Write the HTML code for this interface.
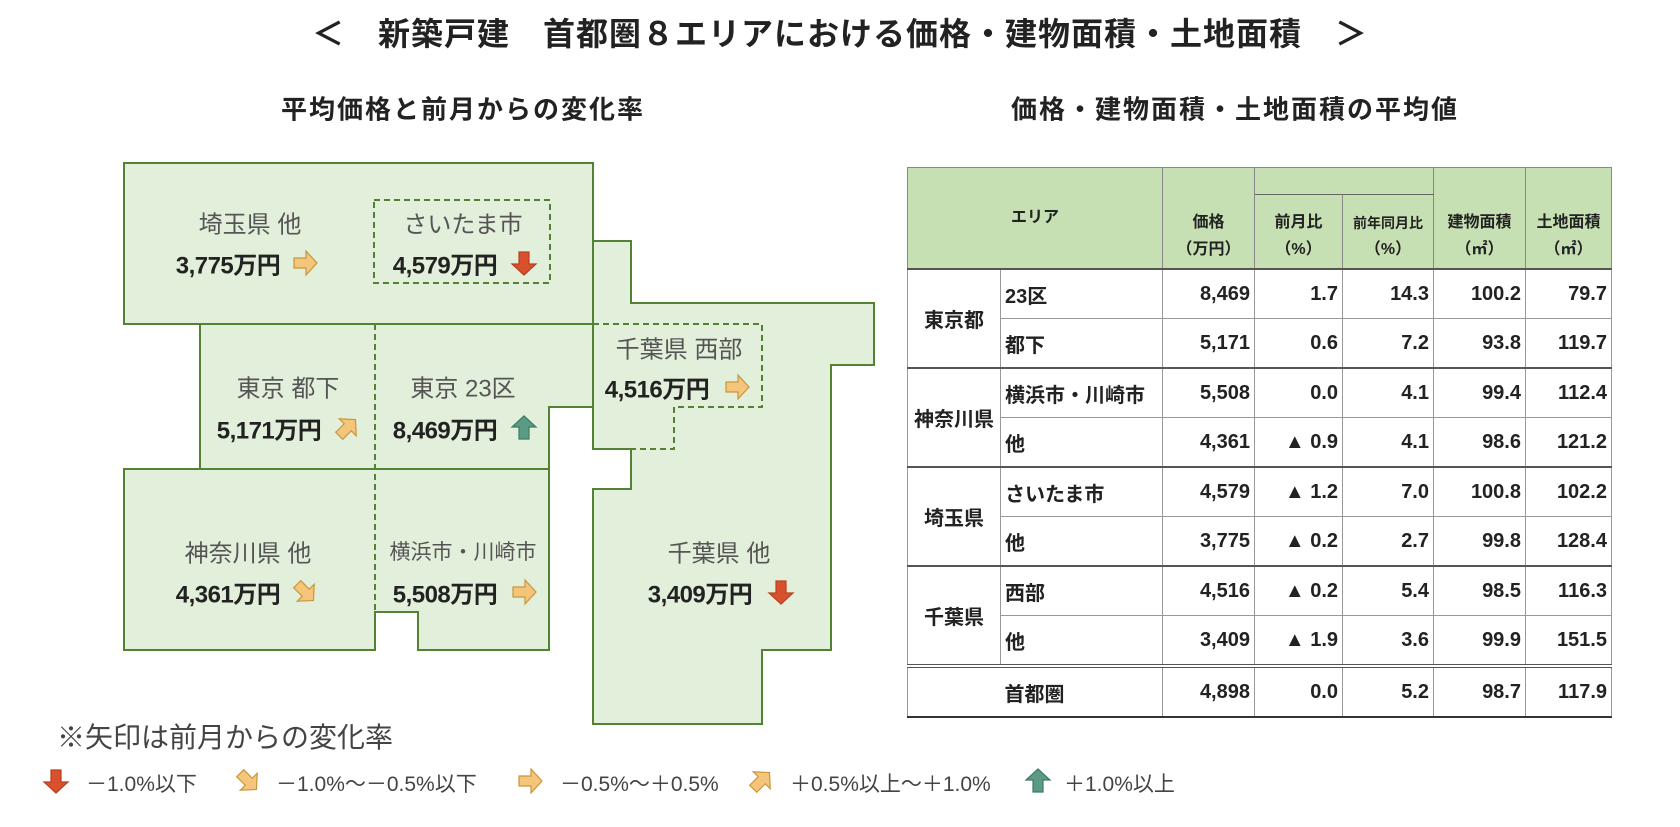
<!DOCTYPE html>
<html><head><meta charset="utf-8"><style>
body{margin:0;width:1680px;height:827px;background:#fff;position:relative;overflow:hidden;font-family:"Liberation Sans","Noto Sans CJK JP",sans-serif;color:#222}
.a{position:absolute;white-space:nowrap}
.t{transform:translate(-50%,-50%)}
.lbl{font-size:24px;color:#555}
.num{font-size:24px;font-weight:bold;color:#222;letter-spacing:-0.5px}
table{position:absolute;left:907px;top:167px;border-collapse:collapse;font-size:20px;font-weight:bold}
td{border:1px solid #999;padding:0 4px;height:48px;text-align:right;vertical-align:middle}
.h td{background:#c6e0b4;text-align:center;font-size:16px;border-color:#888;line-height:1.7}
.g td{border-top:2px solid #555}
td.l{text-align:left}
td.c{text-align:center}
</style></head><body>
<div class="a t" style="left:840px;top:32px;font-size:32px;font-weight:bold;letter-spacing:1px">＜　新築戸建　首都圏８エリアにおける価格・建物面積・土地面積　＞</div>
<div class="a t" style="left:463px;top:108px;font-size:26px;font-weight:bold;letter-spacing:2px">平均価格と前月からの変化率</div>
<div class="a t" style="left:1235px;top:108px;font-size:26px;font-weight:bold;letter-spacing:2px">価格・建物面積・土地面積の平均値</div>

<svg class="a" style="left:0;top:0" width="1680" height="827">
<defs>
<path id="ar" d="M-11,-5 L1,-5 L1,-12 L12,0 L1,12 L1,5 L-11,5 Z"/>
</defs>
<g fill="#e2efda" stroke="#548235" stroke-width="2">
<polygon points="124,163 593,163 593,324 124,324"/>
<polygon points="200,324 593,324 593,407 549,407 549,469 200,469"/>
<polygon points="124,469 549,469 549,650 418,650 418,612 375,612 375,650 124,650"/>
<polygon points="593,241 631,241 631,303 874,303 874,365 831,365 831,650 762,650 762,724 593,724 593,489 631,489 631,449 593,449"/>
</g>
<g fill="none" stroke="#548235" stroke-width="2" stroke-dasharray="6,4">
<rect x="374" y="200" width="176" height="83"/>
<polyline points="593,324 762,324 762,407 674,407 674,449 593,449"/>
<line x1="375" y1="324" x2="375" y2="612"/>
</g>
<g stroke-width="1.2">
<use href="#ar" transform="translate(305,263)" fill="#f4c57a" stroke="#c8963c"/>
<use href="#ar" transform="translate(524,263) rotate(90)" fill="#d9512c" stroke="#b8401f"/>
<use href="#ar" transform="translate(347,428) rotate(-45)" fill="#f4c57a" stroke="#c8963c"/>
<use href="#ar" transform="translate(524,428) rotate(-90)" fill="#5b9b84" stroke="#3f7a64"/>
<use href="#ar" transform="translate(737,387)" fill="#f4c57a" stroke="#c8963c"/>
<use href="#ar" transform="translate(305,592) rotate(45)" fill="#f4c57a" stroke="#c8963c"/>
<use href="#ar" transform="translate(524,592)" fill="#f4c57a" stroke="#c8963c"/>
<use href="#ar" transform="translate(781,592) rotate(90)" fill="#d9512c" stroke="#b8401f"/>
<use href="#ar" transform="translate(56,781) rotate(90)" fill="#d9512c" stroke="#b8401f"/>
<use href="#ar" transform="translate(248,781) rotate(45)" fill="#f4c57a" stroke="#c8963c"/>
<use href="#ar" transform="translate(530,781)" fill="#f4c57a" stroke="#c8963c"/>
<use href="#ar" transform="translate(761,781) rotate(-45)" fill="#f4c57a" stroke="#c8963c"/>
<use href="#ar" transform="translate(1038,781) rotate(-90)" fill="#5b9b84" stroke="#3f7a64"/>
</g>
</svg>

<div class="a t lbl" style="left:250px;top:222px">埼玉県 他</div>
<div class="a t num" style="left:228px;top:263px">3,775万円</div>
<div class="a t lbl" style="left:463px;top:222px">さいたま市</div>
<div class="a t num" style="left:445px;top:263px">4,579万円</div>
<div class="a t lbl" style="left:288px;top:386px">東京 都下</div>
<div class="a t num" style="left:269px;top:428px">5,171万円</div>
<div class="a t lbl" style="left:463px;top:386px">東京 23区</div>
<div class="a t num" style="left:445px;top:428px">8,469万円</div>
<div class="a t lbl" style="left:679px;top:347px">千葉県 西部</div>
<div class="a t num" style="left:657px;top:387px">4,516万円</div>
<div class="a t lbl" style="left:248px;top:551px">神奈川県 他</div>
<div class="a t num" style="left:228px;top:592px">4,361万円</div>
<div class="a t lbl" style="left:463px;top:551px;font-size:21px">横浜市・川崎市</div>
<div class="a t num" style="left:445px;top:592px">5,508万円</div>
<div class="a t lbl" style="left:719px;top:551px">千葉県 他</div>
<div class="a t num" style="left:700px;top:592px">3,409万円</div>

<div class="a" style="left:57px;top:716px;font-size:28px;color:#444">※矢印は前月からの変化率</div>
<div class="a" style="left:86px;top:768px;font-size:21px;color:#444">－1.0%以下</div>
<div class="a" style="left:276px;top:768px;font-size:21px;color:#444">－1.0%～－0.5%以下</div>
<div class="a" style="left:560px;top:768px;font-size:21px;color:#444">－0.5%～＋0.5%</div>
<div class="a" style="left:790px;top:768px;font-size:21px;color:#444">＋0.5%以上～＋1.0%</div>
<div class="a" style="left:1064px;top:768px;font-size:21px;color:#444">＋1.0%以上</div>

<table>
<colgroup><col style="width:93px"><col style="width:162px"><col style="width:92px"><col style="width:88px"><col style="width:91px"><col style="width:92px"><col style="width:86px"></colgroup>
<tr class="h"><td colspan="2" rowspan="2" style="height:96px">エリア</td><td rowspan="2" style="vertical-align:bottom;padding-bottom:5px">価格<br>（万円）</td><td colspan="2" style="height:26px;border-bottom:1px solid #666"></td><td rowspan="2" style="vertical-align:bottom;padding-bottom:5px">建物面積<br>（㎡）</td><td rowspan="2" style="vertical-align:bottom;padding-bottom:5px">土地面積<br>（㎡）</td></tr>
<tr class="h"><td style="height:68px;vertical-align:bottom;padding-bottom:5px">前月比<br>（%）</td><td style="vertical-align:bottom;padding-bottom:5px;font-size:14px">前年同月比<br><span style="font-size:16px">（%）</span></td></tr>
<tr class="g"><td class="c" rowspan="2">東京都</td><td class="l">23区</td><td>8,469</td><td>1.7</td><td>14.3</td><td>100.2</td><td>79.7</td></tr>
<tr><td class="l">都下</td><td>5,171</td><td>0.6</td><td>7.2</td><td>93.8</td><td>119.7</td></tr>
<tr class="g"><td class="c" rowspan="2">神奈川県</td><td class="l">横浜市・川崎市</td><td>5,508</td><td>0.0</td><td>4.1</td><td>99.4</td><td>112.4</td></tr>
<tr><td class="l">他</td><td>4,361</td><td>▲ 0.9</td><td>4.1</td><td>98.6</td><td>121.2</td></tr>
<tr class="g"><td class="c" rowspan="2">埼玉県</td><td class="l">さいたま市</td><td>4,579</td><td>▲ 1.2</td><td>7.0</td><td>100.8</td><td>102.2</td></tr>
<tr><td class="l">他</td><td>3,775</td><td>▲ 0.2</td><td>2.7</td><td>99.8</td><td>128.4</td></tr>
<tr class="g"><td class="c" rowspan="2">千葉県</td><td class="l">西部</td><td>4,516</td><td>▲ 0.2</td><td>5.4</td><td>98.5</td><td>116.3</td></tr>
<tr><td class="l">他</td><td>3,409</td><td>▲ 1.9</td><td>3.6</td><td>99.9</td><td>151.5</td></tr>
<tr style="border-top:4px double #555;border-bottom:2px solid #333"><td style="border-right:none"></td><td class="l" style="border-left:none">首都圏</td><td>4,898</td><td>0.0</td><td>5.2</td><td>98.7</td><td>117.9</td></tr>
</table>
</body></html>
